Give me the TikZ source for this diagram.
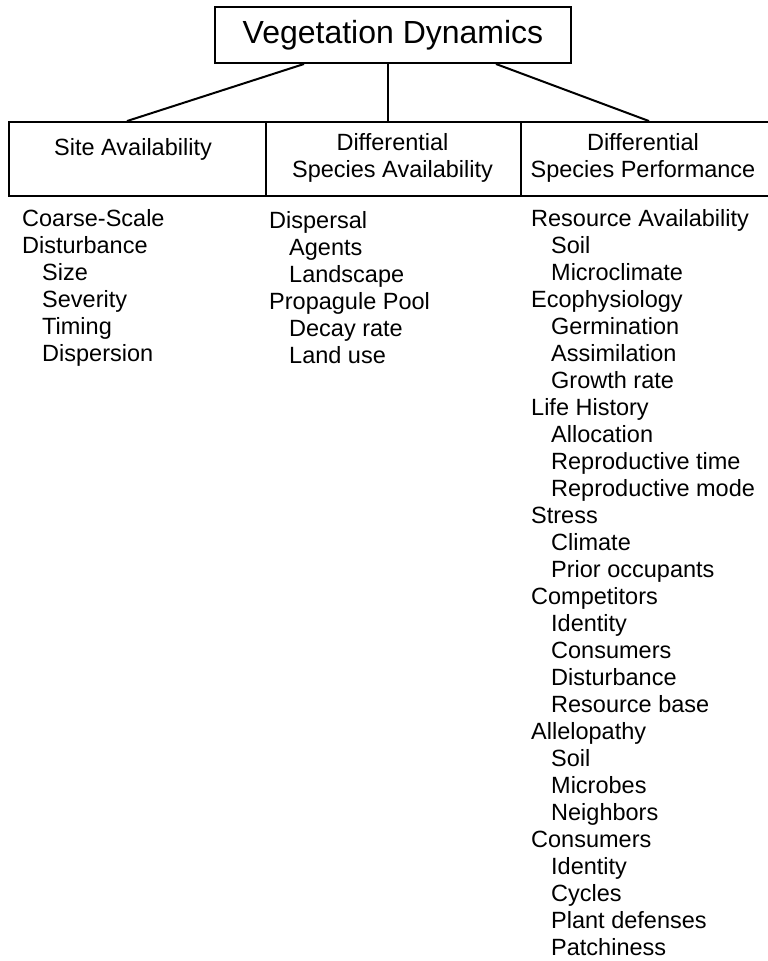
\documentclass[tikz,border=0pt]{standalone}
\usepackage{fontspec}
\setmainfont{Liberation Sans}

\tikzset{
  frame/.style={draw, line width=2pt, inner sep=0pt},
  headtext/.style={font=\fontsize{23.5}{27}\selectfont, align=center, inner sep=0pt},
  item/.style={font=\fontsize{23.5}{27}\selectfont, anchor=base west, inner sep=0pt},
  link/.style={line width=2pt},
}

\begin{document}
\begin{tikzpicture}[x=1pt,y=-1pt]
\useasboundingbox (0,0) rectangle (768,961);
% top box
\node[frame, minimum width=356, minimum height=56, font=\fontsize{32}{36}\selectfont] (veg) at (393,35) {Vegetation Dynamics};
% header row
\node[frame, minimum width=256.2, minimum height=73.7] (site) at (137.4,158.9) {};
\node[frame, minimum width=255, minimum height=73.7] (spa) at (393,158.9) {};
\node[frame, minimum width=249.5, minimum height=73.7] (spp) at (645.25,158.9) {};
\node[headtext, anchor=base] (sitelabel) at (133,155) {Site Availability};
\node[headtext] (spalabel) at (392.5,157.7) {Differential\\Species Availability};
\node[headtext] (spplabel) at (643,157.7) {Differential\\Species Performance};
% links from the top box
\draw[link] ([xshift=90]veg.south west) -- ([xshift=118.7]site.north west);
\draw[link] ([xshift=174]veg.south west) -- ([xshift=123.5]spa.north west);
\draw[link] ([xshift=282]veg.south west) -- ([xshift=129.5]spp.north west);
% lists (0 = main item, 1 = sub item)
\foreach \lv/\txt [count=\i] in {0/Coarse-Scale, 0/Disturbance, 1/Size, 1/Severity, 1/Timing, 1/Dispersion}
  \node[item] (site-\i) at (22+20*\lv, 226.7+27*\i-27) {\txt};
\foreach \lv/\txt [count=\i] in {0/Dispersal, 1/Agents, 1/Landscape, 0/Propagule Pool, 1/Decay rate, 1/Land use}
  \node[item] (spa-\i) at (269+20*\lv, 228.3+27*\i-27) {\txt};
\foreach \lv/\txt [count=\i] in {0/Resource Availability, 1/Soil, 1/Microclimate,
    0/Ecophysiology, 1/Germination, 1/Assimilation, 1/Growth rate,
    0/Life History, 1/Allocation, 1/Reproductive time, 1/Reproductive mode,
    0/Stress, 1/Climate, 1/Prior occupants,
    0/Competitors, 1/Identity, 1/Consumers, 1/Disturbance, 1/Resource base,
    0/Allelopathy, 1/Soil, 1/Microbes, 1/Neighbors,
    0/Consumers, 1/Identity, 1/Cycles, 1/Plant defenses, 1/Patchiness}
  \node[item] (spp-\i) at (531+20*\lv, 226.7+27*\i-27) {\txt};
\end{tikzpicture}
\end{document}
